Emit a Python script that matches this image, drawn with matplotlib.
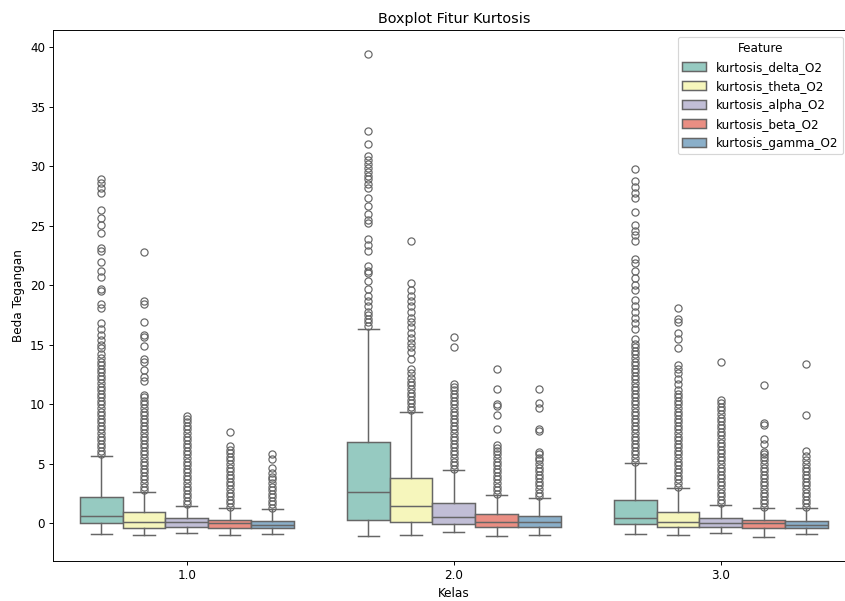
import matplotlib
matplotlib.use("Agg")
import matplotlib.pyplot as plt
import seaborn as sns
from matplotlib.patches import Patch

classes = ["1.0", "2.0", "3.0"]
features = ["kurtosis_delta_O2", "kurtosis_theta_O2", "kurtosis_alpha_O2",
            "kurtosis_beta_O2", "kurtosis_gamma_O2"]
palette = ["#8dd3c7", "#ffffb3", "#bebada", "#fb8072", "#80b1d3"]

# box stats per feature, one value per class (1.0, 2.0, 3.0)
q1 = [[0.06, 0.32, -0.03], [-0.35, 0.10, -0.32], [-0.29, -0.03, -0.26],
      [-0.42, -0.32, -0.42], [-0.42, -0.29, -0.35]]
med = [[0.61, 2.64, 0.48], [0.16, 1.51, 0.16], [0.16, 0.55, 0.06],
       [0.00, 0.16, 0.00], [-0.16, 0.10, -0.16]]
q3 = [[2.25, 6.83, 2.00], [0.93, 3.86, 0.97], [0.45, 1.74, 0.48],
      [0.29, 0.77, 0.29], [0.23, 0.64, 0.23]]
whis_hi = [[5.70, 16.3, 5.06], [2.64, 9.40, 2.96], [1.45, 4.48, 1.58],
           [1.29, 2.38, 1.29], [1.19, 2.16, 1.26]]
whis_lo = [[-0.90, -1.06, -0.90], [-1.00, -0.97, -1.00], [-0.84, -0.74, -0.84],
           [-1.00, -1.03, -1.13], [-0.90, -0.97, -0.90]]

# outliers
fliers_delta = [
    [5.8, 6.1, 6.4, 6.7, 7.0, 7.3, 7.6, 7.9, 8.2, 8.5, 8.8, 9.1, 9.4, 9.7, 10.0, 10.3,
     10.6, 10.9, 11.2, 11.5, 11.8, 12.1, 12.4, 12.7, 13.0, 13.3, 13.6, 13.9, 14.2, 14.7,
     15.0, 15.4, 15.8, 16.3, 16.8, 18.1, 18.4, 19.5, 19.7, 20.7, 21.2, 22.0, 22.9, 23.1,
     24.4, 25.1, 25.7, 26.3, 27.8, 28.2, 28.6, 28.9],
    [16.6, 16.9, 17.2, 17.5, 17.8, 18.3, 18.7, 19.1, 19.7, 20.4, 21.0, 21.2, 21.6, 22.9,
     23.4, 23.9, 25.2, 25.5, 26.0, 26.7, 27.3, 28.2, 28.5, 28.9, 29.2, 29.5, 29.9, 30.2,
     30.5, 30.9, 31.9, 33.0, 39.4],
    [5.2, 5.5, 5.8, 6.1, 6.4, 6.7, 7.0, 7.3, 7.6, 7.9, 8.2, 8.5, 8.8, 9.1, 9.4, 9.7, 10.0,
     10.3, 10.6, 10.9, 11.2, 11.5, 11.8, 12.1, 12.4, 12.7, 13.0, 13.3, 13.6, 13.9, 14.2,
     14.5, 14.8, 15.1, 15.5, 16.3, 16.8, 17.3, 17.8, 18.3, 18.8, 19.6, 20.0, 20.6, 21.2,
     21.9, 22.2, 23.7, 24.2, 24.6, 25.1, 26.2, 27.3, 27.8, 28.3, 28.8, 29.8],
]
fliers_theta = [
    [2.8, 3.1, 3.4, 3.7, 4.0, 4.3, 4.6, 4.9, 5.2, 5.5, 5.8, 6.1, 6.4, 6.7, 7.0, 7.3, 7.6,
     7.9, 8.2, 8.5, 8.8, 9.1, 9.4, 9.7, 10.0, 10.3, 10.6, 10.8, 12.0, 12.3, 12.9, 13.6,
     13.8, 14.9, 15.7, 15.8, 16.9, 18.4, 18.7, 22.8],
    [9.5, 9.8, 10.1, 10.4, 10.7, 11.0, 11.3, 11.6, 11.9, 12.2, 12.6, 13.0, 13.8, 14.4,
     14.8, 15.2, 15.6, 16.0, 16.5, 16.9, 17.3, 17.8, 18.3, 18.7, 19.1, 19.6, 20.2, 23.7],
    [3.1, 3.4, 3.7, 4.0, 4.3, 4.6, 4.9, 5.2, 5.5, 5.8, 6.1, 6.4, 6.7, 7.0, 7.3, 7.6, 7.9,
     8.2, 8.5, 8.8, 9.1, 9.4, 9.7, 10.0, 10.3, 10.6, 10.9, 11.2, 11.7, 12.1, 12.6, 13.0,
     13.3, 14.7, 15.5, 16.0, 16.9, 17.2, 18.1],
]
fliers_alpha = [
    [1.6, 1.9, 2.2, 2.5, 2.8, 3.1, 3.4, 3.7, 4.0, 4.3, 4.6, 4.9, 5.2, 5.5, 5.8, 6.1, 6.4,
     6.7, 7.0, 7.3, 7.6, 7.9, 8.2, 8.5, 8.8, 9.0],
    [4.6, 4.9, 5.2, 5.5, 5.8, 6.1, 6.4, 6.7, 7.0, 7.3, 7.6, 7.9, 8.2, 8.5, 8.8, 9.1, 9.4,
     9.7, 10.0, 10.3, 10.6, 10.9, 11.2, 11.5, 11.7, 14.8, 15.7],
    [1.7, 2.0, 2.3, 2.6, 2.9, 3.2, 3.5, 3.8, 4.1, 4.4, 4.7, 5.0, 5.3, 5.6, 5.9, 6.2, 6.5,
     6.8, 7.1, 7.4, 7.7, 8.0, 8.3, 8.6, 8.9, 9.2, 9.5, 9.8, 10.1, 10.4, 13.6],
]
fliers_beta = [
    [1.4, 1.7, 2.0, 2.3, 2.6, 2.9, 3.2, 3.5, 3.8, 4.1, 4.4, 4.7, 5.0, 5.3, 5.6, 5.9, 6.2,
     6.5, 7.7],
    [2.5, 2.8, 3.1, 3.4, 3.7, 4.0, 4.3, 4.6, 4.9, 5.2, 5.5, 5.8, 6.1, 6.3, 6.6, 7.95, 9.1,
     9.9, 10.0, 11.3, 13.0],
    [1.4, 1.7, 2.0, 2.3, 2.6, 2.9, 3.2, 3.5, 3.8, 4.1, 4.4, 4.7, 5.0, 5.3, 5.6, 5.8, 6.0,
     6.7, 7.1, 8.3, 8.44, 11.66],
]
fliers_gamma = [
    [1.3, 1.6, 1.9, 2.2, 2.5, 2.8, 3.1, 3.4, 3.7, 3.9, 4.25, 4.7, 5.4, 5.8],
    [2.3, 2.6, 2.9, 3.2, 3.5, 3.8, 4.1, 4.4, 4.7, 5.0, 5.3, 5.5, 5.8, 6.0, 7.8, 7.9, 9.7,
     10.1, 11.3],
    [1.4, 1.7, 2.0, 2.3, 2.6, 2.9, 3.2, 3.5, 3.8, 4.1, 4.4, 4.7, 5.0, 5.3, 5.7, 6.1, 9.15,
     13.4],
]
fliers = [fliers_delta, fliers_theta, fliers_alpha, fliers_beta, fliers_gamma]

gray = "#666666"
colors = [sns.desaturate(c, 0.75) for c in palette]
n = len(features)
width = 0.8 / n

DPI = 86
fig = plt.figure(figsize=(845 / DPI, 601 / DPI), dpi=DPI)
ax = fig.add_axes([53.3 / 845, 40 / 601, 801 / 845, 531 / 601])

for i, feat in enumerate(features):
    stats = []
    for j in range(len(classes)):
        stats.append(dict(med=med[i][j], q1=q1[i][j], q3=q3[i][j],
                          whislo=whis_lo[i][j], whishi=whis_hi[i][j],
                          fliers=fliers[i][j]))
    positions = [j - 0.4 + width * (i + 0.5) for j in range(len(classes))]
    ax.bxp(stats, positions=positions, widths=width, patch_artist=True,
           manage_ticks=False,
           boxprops=dict(facecolor=colors[i], edgecolor=gray, linewidth=1.25),
           medianprops=dict(color=gray, linewidth=1.25),
           whiskerprops=dict(color=gray, linewidth=1.25),
           capprops=dict(color=gray, linewidth=1.25),
           flierprops=dict(marker="o", markerfacecolor="none", markeredgecolor=gray,
                           markersize=6, markeredgewidth=1))

ax.set_xticks(range(len(classes)))
ax.set_xticklabels(classes)
ax.set_xlim(-0.5, len(classes) - 0.5)
ax.set_ylim(-3.15, 41.45)
ax.set_title("Boxplot Fitur Kurtosis", fontsize=12)
ax.set_xlabel("Kelas")
ax.set_ylabel("Beda Tegangan")

handles = [Patch(facecolor=colors[i], edgecolor=gray, linewidth=1.25, label=f)
           for i, f in enumerate(features)]
ax.legend(handles=handles, title="Feature", loc="upper right",
          bbox_to_anchor=(843 / 845, 1 - 37 / 601), bbox_transform=fig.transFigure,
          borderaxespad=0)

fig.savefig("out.png", dpi=DPI)
